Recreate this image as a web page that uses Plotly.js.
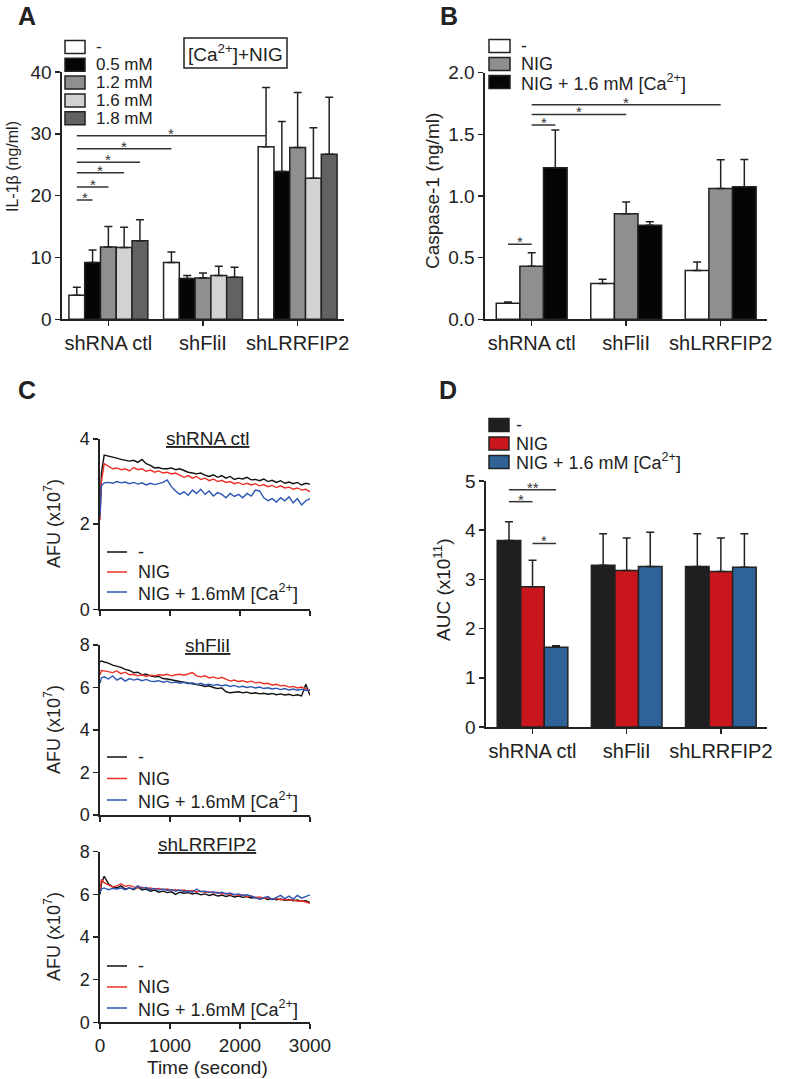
<!DOCTYPE html>
<html>
<head>
<meta charset="utf-8">
<script src="https://cdn.plot.ly/plotly-3.0.1.min.js"></script>
<style>html,body{margin:0;padding:0;background:#fff;}#chart{width:787px;height:1079px;}</style>
</head>
<body>
<div id="chart"></div>
<script>
// ---------------- DATA ----------------
const groups = ['shRNA ctl', 'shFliI', 'shLRRFIP2'];

// Panel A: IL-1beta (ng/ml)
const aLabels = ['-', '0.5 mM', '1.2 mM', '1.6 mM', '1.8 mM'];
const il1b_none = [3.9, 9.2, 27.9];
const il1b_05   = [9.2, 6.6, 23.9];
const il1b_12   = [11.7, 6.7, 27.8];
const il1b_16   = [11.6, 7.1, 22.8];
const il1b_18   = [12.7, 6.8, 26.7];
const il1b_none_sem = [1.3, 1.7, 9.6];
const il1b_05_sem   = [2.0, 0.5, 8.1];
const il1b_12_sem   = [3.3, 0.8, 8.9];
const il1b_16_sem   = [3.3, 1.5, 8.2];
const il1b_18_sem   = [3.4, 1.6, 9.2];
const aTicks = [0, 10, 20, 30, 40];
// significance: [group,bar] -> [group,bar], level, label
const aSig = [
  [[0,0],[0,1],19.3,'*'], [[0,0],[0,2],21.4,'*'], [[0,0],[0,3],23.7,'*'],
  [[0,0],[0,4],25.4,'*'], [[0,0],[1,0],27.6,'*'], [[0,0],[2,0],29.7,'*']
];

// Panel B: Caspase-1 (ng/ml)
const bLabels = ['-', 'NIG', 'NIG + 1.6 mM [Ca<sup>2+</sup>]'];
const casp_none = [0.13, 0.29, 0.395];
const casp_nig  = [0.43, 0.857, 1.06];
const casp_ca   = [1.23, 0.762, 1.076];
const casp_none_sem = [0.01, 0.035, 0.07];
const casp_nig_sem  = [0.11, 0.095, 0.235];
const casp_ca_sem   = [0.305, 0.03, 0.22];
const bTicks = [0, 0.5, 1.0, 1.5, 2.0];
const bSig = [
  [[0,0],[0,1],0.608,'*'], [[0,1],[0,2],1.576,'*'],
  [[0,1],[1,1],1.662,'*'], [[0,1],[2,1],1.74,'*']
];

// Panel D: AUC (x10^11)
const dLabels = ['-', 'NIG', 'NIG + 1.6 mM [Ca<sup>2+</sup>]'];
const auc_none = [3.79, 3.29, 3.26];
const auc_nig  = [2.85, 3.18, 3.16];
const auc_ca   = [1.62, 3.26, 3.245];
const auc_none_sem = [0.38, 0.64, 0.67];
const auc_nig_sem  = [0.54, 0.66, 0.68];
const auc_ca_sem   = [0.03, 0.70, 0.685];
const dTicks = [0, 1, 2, 3, 4, 5];
const dSig = [
  [[0,0],[0,2],4.82,'**'], [[0,0],[0,1],4.58,'*'], [[0,1],[0,2],3.73,'*']
];

// Panel C: AFU (x10^7) time courses
const cLabels = ['-', 'NIG', 'NIG + 1.6mM [Ca<sup>2+</sup>]'];
const cTitles = ['shRNA ctl', 'shFliI', 'shLRRFIP2'];
const timeSec = [0,20,60,120,180,240,300,360,420,480,540,600,660,720,780,840,900,960,1020,1080,
  1140,1200,1260,1320,1380,1440,1500,1560,1620,1680,1740,1800,1860,1920,1980,2040,2100,2160,2220,2280,
  2340,2400,2460,2520,2580,2640,2700,2760,2820,2880,2940,3000];
const ctl_none = [2.2,3.2,3.62,3.6,3.58,3.55,3.52,3.5,3.48,3.5,
  3.45,3.52,3.42,3.38,3.32,3.33,3.3,3.3,3.32,3.28,
  3.3,3.26,3.22,3.2,3.18,3.2,3.15,3.12,3.16,3.1,
  3.14,3.08,3.12,3.05,3.08,3.06,3.1,3.04,3.05,3.02,
  3.06,3.0,3.03,2.98,3.02,2.96,2.99,2.95,2.98,2.92,
  2.96,2.94];
const ctl_nig = [2.1,3.0,3.42,3.35,3.3,3.32,3.28,3.3,3.25,3.33,
  3.28,3.3,3.24,3.27,3.22,3.25,3.2,3.22,3.18,3.2,
  3.15,3.1,3.14,3.08,3.12,3.05,3.08,3.02,3.06,3.0,
  3.03,2.98,3.0,2.95,2.98,2.93,2.96,2.92,2.95,2.9,
  2.93,2.88,2.91,2.86,2.9,2.85,2.87,2.82,2.85,2.8,
  2.82,2.76];
const ctl_ca = [2.2,2.9,2.97,2.98,2.96,3.0,2.97,2.99,2.95,2.98,
  2.94,2.97,2.92,2.96,2.93,2.95,2.98,3.04,2.88,2.78,
  2.7,2.76,2.68,2.8,2.72,2.82,2.7,2.78,2.66,2.74,
  2.7,2.62,2.72,2.65,2.7,2.62,2.72,2.66,2.8,2.78,
  2.62,2.55,2.6,2.52,2.62,2.55,2.64,2.5,2.6,2.45,
  2.55,2.6];
const fli_none = [7.2,7.25,7.2,7.15,7.05,7.0,6.95,6.85,6.8,6.7,
  6.72,6.6,6.62,6.55,6.5,6.52,6.42,6.4,6.35,6.33,
  6.28,6.25,6.22,6.18,6.15,6.1,6.05,6.08,6.0,5.95,
  5.98,5.8,5.75,5.78,5.8,5.75,5.78,5.72,5.75,5.7,
  5.73,5.68,5.72,5.66,5.7,5.65,5.68,5.62,5.66,5.6,
  6.15,5.62];
const fli_nig = [6.6,6.8,6.78,6.75,6.7,6.78,6.65,6.72,6.6,6.62,
  6.55,6.6,6.52,6.58,6.55,6.6,6.58,6.62,6.55,6.6,
  6.62,6.58,6.65,6.7,6.55,6.5,6.55,6.45,6.5,6.42,
  6.48,6.4,6.3,6.35,6.28,6.32,6.25,6.3,6.22,6.25,
  6.18,6.2,6.12,6.15,6.08,6.1,6.02,6.05,5.98,6.02,
  5.95,5.85];
const fli_ca = [6.2,6.45,6.5,6.4,6.55,6.35,6.45,6.3,6.42,6.35,
  6.4,6.32,6.38,6.3,6.28,6.32,6.25,6.3,6.22,6.26,
  6.2,6.24,6.18,6.22,6.15,6.2,6.12,6.16,6.1,6.14,
  6.08,6.12,6.05,6.1,6.02,6.06,6.0,6.04,5.98,6.02,
  5.95,5.99,5.93,5.97,5.9,5.95,5.88,5.93,5.87,5.92,
  5.86,5.9];
const lrr_none = [6.0,6.5,6.85,6.5,6.35,6.3,6.4,6.25,6.3,6.22,
  6.35,6.2,6.25,6.15,6.2,6.1,6.15,6.08,6.12,6.0,
  6.1,6.05,6.08,6.02,6.06,5.98,6.02,5.95,6.0,5.92,
  5.96,5.9,5.95,5.88,5.92,5.86,5.9,5.83,5.85,5.78,
  5.82,5.76,5.8,5.74,5.78,5.72,5.76,5.7,5.74,5.68,
  5.7,5.62];
const lrr_nig = [6.2,6.7,6.55,6.45,6.35,6.4,6.5,6.38,6.42,6.35,
  6.3,6.33,6.28,6.3,6.25,6.28,6.22,6.25,6.2,6.22,
  6.18,6.2,6.15,6.18,6.12,6.15,6.1,6.12,6.06,6.1,
  6.02,6.05,5.98,6.0,5.94,5.97,5.9,5.92,5.85,5.88,
  5.82,5.84,5.78,5.8,5.75,5.77,5.72,5.74,5.68,5.7,
  5.64,5.58];
const lrr_ca = [6.1,6.25,6.3,6.22,6.28,6.25,6.3,6.22,6.3,6.25,
  6.4,6.28,6.32,6.22,6.28,6.2,6.25,6.18,6.22,6.15,
  6.2,6.12,6.16,6.1,6.25,6.12,6.15,6.08,6.12,6.05,
  6.1,6.02,6.06,5.98,6.02,5.95,5.98,5.92,5.85,5.78,
  5.85,5.9,5.75,5.85,5.95,5.8,5.92,5.78,5.95,5.82,
  5.9,5.98];
const cTimeTicks = [0, 1000, 2000, 3000];
const cTopTicks = [0, 2, 4];
const cTicks = [0, 2, 4, 6, 8];

// ---------------- STYLE / LAYOUT HELPERS ----------------
const W = 787, H = 1079;
const FONT = '"Liberation Sans", Arial, Helvetica, sans-serif';
const INK = '#222';
const px = x => x / W;
const py = y => 1 - y / H;

const aColors = ['#ffffff', '#050505', '#8f8f8f', '#d2d2d2', '#626262'];
const bColors = ['#ffffff', '#8f8f8f', '#050505'];
const dColors = ['#1f1f1f', '#c9161d', '#2f6398'];
const cColors = ['#111111', '#ec3026', '#2b56b3'];

function axBase(extra) {
  return Object.assign({
    showline: true, linecolor: INK, linewidth: 1.6,
    ticks: 'outside', ticklen: 5, tickwidth: 1.5, tickcolor: INK,
    showgrid: false, zeroline: false, fixedrange: true,
    tickfont: { family: FONT, size: 19, color: INK }
  }, extra);
}

const traces = [];
const shapes = [];
const annotations = [];

function barPanel(cfg) {
  const n = cfg.values.length;
  const w = cfg.groupWidth / n;
  const offs = [];
  for (let k = 0; k < n; k++) offs.push(-cfg.groupWidth / 2 + k * w);
  for (let k = 0; k < n; k++) {
    traces.push({
      type: 'bar', x: groups, y: cfg.values[k],
      xaxis: cfg.xa, yaxis: cfg.ya, width: w, offset: offs[k],
      marker: { color: cfg.colors[k], line: { color: INK, width: 1.5 } },
      error_y: { type: 'data', symmetric: false, array: cfg.sems[k],
                 arrayminus: cfg.sems[k].map(() => 0), color: INK, thickness: 1.5, width: 4 },
      showlegend: false, hoverinfo: 'skip'
    });
  }
  const pos = (gb) => gb[0] + offs[gb[1]] + w / 2;
  cfg.sig.forEach(s => {
    const x0 = pos(s[0]), x1 = pos(s[1]);
    shapes.push({ type: 'line', xref: cfg.xa, yref: cfg.ya, x0: x0, x1: x1, y0: s[2], y1: s[2],
                  line: { color: '#333', width: 1.5 } });
    annotations.push({ xref: cfg.xa, yref: cfg.ya, x: (x0 + x1) / 2, y: s[2], text: s[3],
                       showarrow: false, yanchor: 'bottom', yshift: -8,
                       font: { family: FONT, size: 15, color: '#333' } });
  });
}

barPanel({ xa: 'x', ya: 'y', groupWidth: 0.834,
  values: [il1b_none, il1b_05, il1b_12, il1b_16, il1b_18],
  sems: [il1b_none_sem, il1b_05_sem, il1b_12_sem, il1b_16_sem, il1b_18_sem],
  colors: aColors, sig: aSig });
barPanel({ xa: 'x2', ya: 'y2', groupWidth: 0.75,
  values: [casp_none, casp_nig, casp_ca],
  sems: [casp_none_sem, casp_nig_sem, casp_ca_sem],
  colors: bColors, sig: bSig });
barPanel({ xa: 'x3', ya: 'y3', groupWidth: 0.75,
  values: [auc_none, auc_nig, auc_ca],
  sems: [auc_none_sem, auc_nig_sem, auc_ca_sem],
  colors: dColors, sig: dSig });

// Panel C line traces
const cSets = [[ctl_none, ctl_nig, ctl_ca], [fli_none, fli_nig, fli_ca], [lrr_none, lrr_nig, lrr_ca]];
const cAxes = [['x4', 'y4'], ['x5', 'y5'], ['x6', 'y6']];
cSets.forEach((set, i) => {
  set.forEach((ser, k) => {
    traces.push({ type: 'scatter', mode: 'lines', x: timeSec, y: ser,
      xaxis: cAxes[i][0], yaxis: cAxes[i][1],
      line: { color: cColors[k], width: 1.4 }, showlegend: false, hoverinfo: 'skip' });
  });
});

// ---------------- MANUAL LEGENDS / LABELS ----------------
function txt(x, y, text, size, opts) {
  annotations.push(Object.assign({ xref: 'paper', yref: 'paper', x: px(x), y: py(y), text: text,
    showarrow: false, xanchor: 'left', yanchor: 'middle', borderpad: 0,
    font: { family: FONT, size: size, color: INK } }, opts || {}));
}
function boxLegend(labels, colors, x0, x1, yTop, step, h, tx, size) {
  labels.forEach((lab, i) => {
    const yc = yTop + i * step;
    shapes.push({ type: 'rect', xref: 'paper', yref: 'paper', x0: px(x0), x1: px(x1),
      y0: py(yc + h / 2), y1: py(yc - h / 2), fillcolor: colors[i], line: { color: INK, width: 1.5 } });
    txt(tx, yc, lab, size);
  });
}
function lineLegend(labels, colors, x0, x1, yTop, step, tx, size) {
  labels.forEach((lab, i) => {
    const yc = yTop + i * step;
    shapes.push({ type: 'line', xref: 'paper', yref: 'paper', x0: px(x0), x1: px(x1),
      y0: py(yc), y1: py(yc), line: { color: colors[i], width: 1.5 } });
    txt(tx, yc, lab, size);
  });
}

boxLegend(aLabels, aColors, 65, 85, 47, 17.8, 13, 95, 17);
shapes.push({ type: 'rect', xref: 'paper', yref: 'paper', x0: px(184), x1: px(287), y0: py(68), y1: py(38),
  line: { color: INK, width: 1.5 } });
txt(235.5, 53, '[Ca<sup>2+</sup>]+NIG', 19, { xanchor: 'center' });
boxLegend(bLabels, bColors, 489, 510, 46, 18, 13, 520, 18);
boxLegend(dLabels, dColors, 489, 509, 425, 18.5, 13, 515, 18);
lineLegend(cLabels, cColors, 107, 127, 552, 20, 137, 18);
lineLegend(cLabels, cColors, 107, 127, 757, 21.5, 137, 18);
lineLegend(cLabels, cColors, 107, 127, 966, 21, 137, 18);

// panel letters
[['A', 27, 16], ['B', 449, 16], ['C', 27, 390], ['D', 448, 390]].forEach(p =>
  txt(p[1], p[2], '<b>' + p[0] + '</b>', 25, { xanchor: 'center' }));

// y titles
txt(12, 167, 'IL-1β (ng/ml)', 16, { xanchor: 'center', textangle: -90 });
txt(432, 191, 'Caspase-1 (ng/ml)', 19, { xanchor: 'center', textangle: -90 });
txt(442, 590, 'AUC (x10<sup>11</sup>)', 19, { xanchor: 'center', textangle: -90 });
[524, 730, 937].forEach(y => txt(52, y, 'AFU (x10<sup>7</sup>)', 18, { xanchor: 'center', textangle: -90 }));
// subplot titles in C
txt(207, 438, '<u>' + cTitles[0] + '</u>', 19, { xanchor: 'center' });
txt(207, 646, '<u>' + cTitles[1] + '</u>', 19, { xanchor: 'center' });
txt(207, 844, '<u>' + cTitles[2] + '</u>', 19, { xanchor: 'center' });
txt(207, 1067, 'Time (second)', 19, { xanchor: 'center' });

// ---------------- AXES ----------------
const catFont = { family: FONT, size: 20, color: INK };
const cFont = { family: FONT, size: 18, color: INK };
const layout = {
  width: W, height: H, margin: { l: 0, r: 0, t: 0, b: 0 },
  paper_bgcolor: '#fff', plot_bgcolor: 'rgba(0,0,0,0)',
  barmode: 'overlay', showlegend: false,
  font: { family: FONT, color: INK },
  xaxis: axBase({ domain: [px(62), px(344)], anchor: 'y', type: 'category', categoryarray: groups,
    range: [-0.49, 2.49], tickfont: catFont }),
  yaxis: axBase({ domain: [py(319.3), py(72)], anchor: 'x', range: [0, 40], tickvals: aTicks }),
  xaxis2: axBase({ domain: [px(485), px(767)], anchor: 'y2', type: 'category', categoryarray: groups,
    range: [-0.494, 2.49], tickfont: catFont }),
  yaxis2: axBase({ domain: [py(319.3), py(72.7)], anchor: 'x2', range: [0, 2], tickvals: bTicks, tickformat: '.1f' }),
  xaxis3: axBase({ domain: [px(486), px(767)], anchor: 'y3', type: 'category', categoryarray: groups,
    range: [-0.494, 2.49], tickfont: catFont }),
  yaxis3: axBase({ domain: [py(727), py(481)], anchor: 'x3', range: [0, 5], tickvals: dTicks }),
  xaxis4: axBase({ domain: [px(100), px(310)], anchor: 'y4', range: [0, 3000], tickvals: cTimeTicks, showticklabels: false }),
  yaxis4: axBase({ domain: [py(609.3), py(439)], anchor: 'x4', range: [0, 4], tickvals: cTopTicks, tickfont: cFont }),
  xaxis5: axBase({ domain: [px(100), px(310)], anchor: 'y5', range: [0, 3000], tickvals: cTimeTicks, showticklabels: false }),
  yaxis5: axBase({ domain: [py(815), py(645)], anchor: 'x5', range: [0, 8], tickvals: cTicks, tickfont: cFont }),
  xaxis6: axBase({ domain: [px(100), px(310)], anchor: 'y6', range: [0, 3000], tickvals: cTimeTicks, tickfont: { family: FONT, size: 19, color: INK } }),
  yaxis6: axBase({ domain: [py(1022.3), py(851.7)], anchor: 'x6', range: [0, 8], tickvals: cTicks, tickfont: cFont }),
  shapes: shapes, annotations: annotations
};

Plotly.newPlot('chart', traces, layout, { staticPlot: true, displayModeBar: false });
</script>
</body>
</html>
